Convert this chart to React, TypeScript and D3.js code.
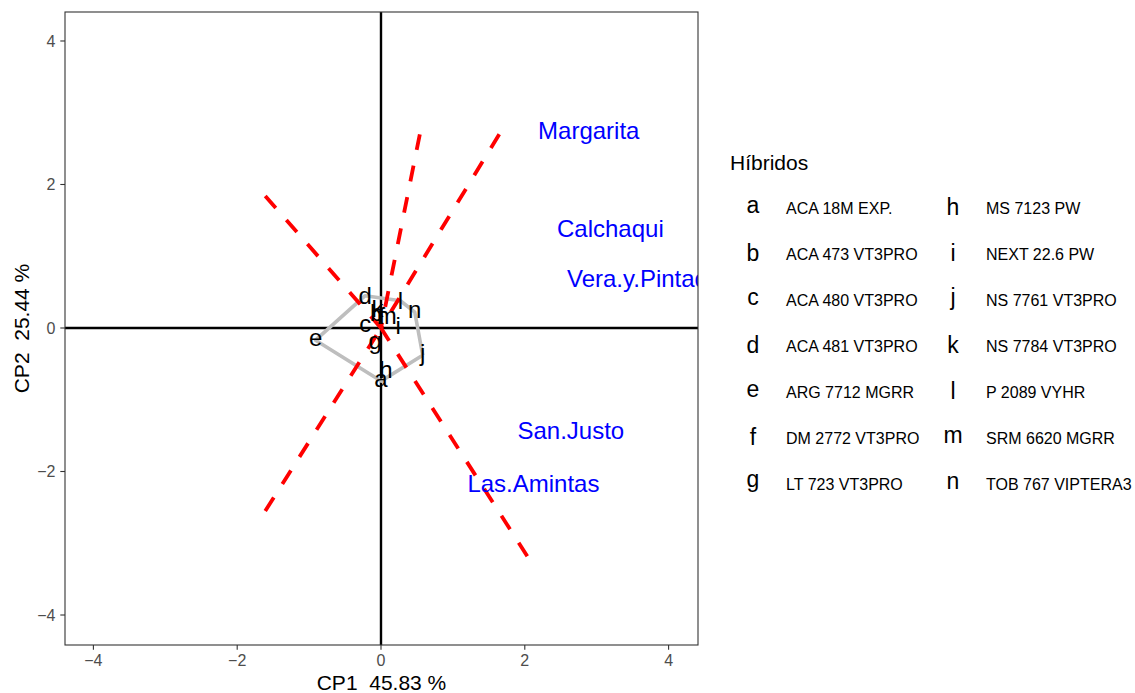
import React from "react";
import * as d3 from "d3";

// Hybrid scores on the first two principal components
const hybridCodes = ["a", "b", "c", "d", "e", "f", "g", "h", "i", "j", "k", "l", "m", "n"];
const hybridNames = [
  "ACA 18M EXP.",
  "ACA 473 VT3PRO",
  "ACA 480 VT3PRO",
  "ACA 481 VT3PRO",
  "ARG 7712 MGRR",
  "DM 2772 VT3PRO",
  "LT 723 VT3PRO",
  "MS 7123 PW",
  "NEXT 22.6 PW",
  "NS 7761 VT3PRO",
  "NS 7784 VT3PRO",
  "P 2089 VYHR",
  "SRM 6620 MGRR",
  "TOB 767 VIPTERA3",
];
const hybridCP1 = [0.0, -0.06, -0.22, -0.22, -0.91, 0.01, -0.08, 0.07, 0.24, 0.58, -0.05, 0.27, 0.08, 0.47];
const hybridCP2 = [-0.74, 0.22, 0.03, 0.45, -0.17, 0.18, -0.24, -0.58, 0.04, -0.38, 0.28, 0.38, 0.14, 0.22];

// Environment scores
const envNames = ["Margarita", "Calchaqui", "Vera.y.Pintado", "San.Justo", "Las.Amintas"];
const envCP1 = [2.89, 3.19, 3.66, 2.64, 2.12];
const envCP2 = [2.72, 1.35, 0.66, -1.42, -2.17];

// Sector rays (outer end points; each ray runs back to the origin)
const rayCP1 = [-1.61, 0.54, 1.645, -1.61, 2.035];
const rayCP2 = [1.84, 2.7, 2.7, -2.55, -3.18];

const axisTicks = [-4, -2, 0, 2, 4];
const xTitle = "CP1  45.83 %";
const yTitle = "CP2  25.44 %";
const legendTitle = "Híbridos";

const W = 1135;
const H = 693;
const panel = { left: 65, right: 698, top: 12, bottom: 645 };
const FONT = "'Liberation Sans', Arial, Helvetica, sans-serif";

// Vertical shift (in em) that puts the glyph box centre on the anchor point
function glyphShift(s: string): number {
  const asc = /[A-Z0-9bdfhijklt]/.test(s) ? 0.72 : 0.52;
  const desc = /[gjpqy]/.test(s) ? 0.21 : 0;
  return (asc - desc) / 2;
}

const fmt = (v: number) => (v < 0 ? "\u2212" + Math.abs(v) : String(v));

export default function App() {
  const x = d3.scaleLinear().domain([-4.395, 4.409]).range([panel.left, panel.right]);
  const y = d3.scaleLinear().domain([-4.418, 4.404]).range([panel.bottom, panel.top]);

  const pts: [number, number][] = hybridCP1.map((v, i) => [x(v), y(hybridCP2[i])]);
  const hull = d3.polygonHull(pts) || [];
  const hullPath = d3.line()(hull.concat(hull.length ? [hull[0]] : [])) || "";

  const rowY = (i: number) => 207 + 46 * i;

  return (
    <svg
      width={W}
      height={H}
      style={{ position: "absolute", left: 0, top: 0, background: "#fff" }}
      fontFamily={FONT}
    >
      <defs>
        <clipPath id="panel-clip">
          <rect
            x={panel.left}
            y={panel.top}
            width={panel.right - panel.left}
            height={panel.bottom - panel.top}
          />
        </clipPath>
      </defs>
      <rect x={0} y={0} width={W} height={H} fill="#fff" />

      <g clipPath="url(#panel-clip)">
        {/* reference axes through the origin */}
        <line x1={x(0)} x2={x(0)} y1={panel.top} y2={panel.bottom} stroke="#000" strokeWidth={2.4} />
        <line x1={panel.left} x2={panel.right} y1={y(0)} y2={y(0)} stroke="#000" strokeWidth={2.4} />

        {/* convex hull of the hybrids */}
        <path d={hullPath} fill="none" stroke="#BEBEBE" strokeWidth={3.6} strokeLinejoin="round" />

        {/* rays, drawn from their outer end towards the origin */}
        {rayCP1.map((v, i) => (
          <line
            key={"ray" + i}
            x1={x(v)}
            y1={y(rayCP2[i])}
            x2={x(0)}
            y2={y(0)}
            stroke="#FF0000"
            strokeWidth={3.8}
            strokeDasharray="16,16"
          />
        ))}

        {/* hybrid labels */}
        {hybridCodes.map((c, i) => (
          <text
            key={"h" + c}
            x={x(hybridCP1[i])}
            y={y(hybridCP2[i])}
            dy={glyphShift(c) + "em"}
            fontSize={24}
            textAnchor="middle"
            fill="#000"
          >
            {c}
          </text>
        ))}

        {/* environment labels */}
        {envNames.map((n, i) => (
          <text
            key={"e" + n}
            x={x(envCP1[i])}
            y={y(envCP2[i])}
            dy={glyphShift(n) + "em"}
            fontSize={24}
            textAnchor="middle"
            fill="#0000FF"
          >
            {n}
          </text>
        ))}
      </g>

      {/* panel border */}
      <rect
        x={panel.left}
        y={panel.top}
        width={panel.right - panel.left}
        height={panel.bottom - panel.top}
        fill="none"
        stroke="#333333"
        strokeWidth={1.1}
      />

      {/* x axis */}
      {axisTicks.map((t) => (
        <g key={"xt" + t}>
          <line x1={x(t)} x2={x(t)} y1={panel.bottom} y2={panel.bottom + 4.7} stroke="#333333" strokeWidth={1.1} />
          <text x={x(t)} y={666} fontSize={16} textAnchor="middle" fill="#4D4D4D">
            {fmt(t)}
          </text>
        </g>
      ))}
      {/* y axis */}
      {axisTicks.map((t) => (
        <g key={"yt" + t}>
          <line x1={panel.left - 4.7} x2={panel.left} y1={y(t)} y2={y(t)} stroke="#333333" strokeWidth={1.1} />
          <text x={55.5} y={y(t)} dy="0.36em" fontSize={16} textAnchor="end" fill="#4D4D4D">
            {fmt(t)}
          </text>
        </g>
      ))}

      <text
        x={(panel.left + panel.right) / 2}
        y={690}
        fontSize={21}
        textAnchor="middle"
        fill="#000"
        style={{ whiteSpace: "pre" }}
      >
        {xTitle}
      </text>
      <text
        transform={`translate(28.5,${(panel.top + panel.bottom) / 2}) rotate(-90)`}
        fontSize={21}
        textAnchor="middle"
        fill="#000"
        style={{ whiteSpace: "pre" }}
      >
        {yTitle}
      </text>

      {/* legend */}
      <text x={730} y={170} fontSize={21} fill="#000">
        {legendTitle}
      </text>
      {hybridCodes.map((c, i) => {
        const col = i < 7 ? 0 : 1;
        const row = i % 7;
        const kx = 753 + col * 200;
        const tx = 786 + col * 200;
        const cy = rowY(row);
        return (
          <g key={"lg" + c}>
            <text x={kx} y={cy} dy={glyphShift(c) + "em"} fontSize={23} textAnchor="middle" fill="#000">
              {c}
            </text>
            <text x={tx} y={cy + 7.2} fontSize={16} fill="#000">
              {hybridNames[i]}
            </text>
          </g>
        );
      })}
    </svg>
  );
}
